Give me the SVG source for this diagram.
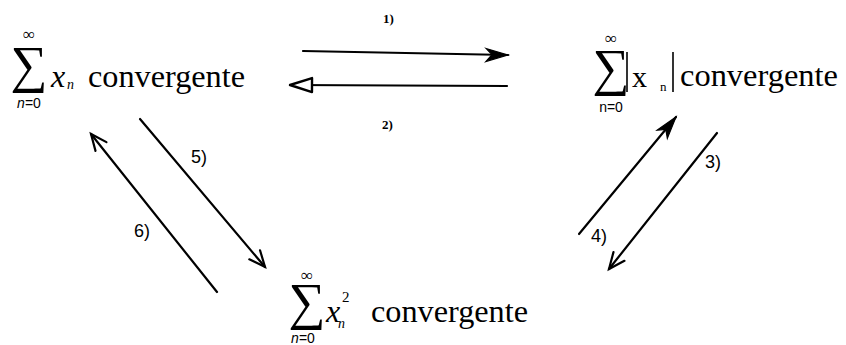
<svg xmlns="http://www.w3.org/2000/svg" width="846" height="345" viewBox="0 0 846 345">
<style>
.serif{font-family:"Liberation Serif","Times New Roman",serif;fill:#000}
.sans{font-family:"Liberation Sans",Arial,sans-serif;fill:#000}
.it{font-style:italic}
.word{font-size:31px}
.sig{font-size:52px}
.inf{font-size:17px}
.lim{font-size:14px}
.num{font-size:18px}
.small{font-size:13px;font-weight:bold}
.ln{stroke:#000;stroke-width:2.2;fill:none;stroke-linecap:round}
.bar{stroke:#000;stroke-width:1.6}
</style>
<defs>
<marker id="vh" markerUnits="userSpaceOnUse" markerWidth="24" markerHeight="20" refX="20" refY="10" orient="auto">
<path d="M4,3 L20,10 L4,17" fill="none" stroke="#000" stroke-width="2.2" stroke-linecap="round"/>
</marker>
<marker id="fh" markerUnits="userSpaceOnUse" markerWidth="28" markerHeight="20" refX="24" refY="10" orient="auto">
<path d="M2,4 L24,10 L2,17 L8,10 Z" fill="#000" stroke="#000" stroke-width="1.2"/>
</marker>
<marker id="oh" markerUnits="userSpaceOnUse" markerWidth="30" markerHeight="20" refX="26" refY="10" orient="auto">
<path d="M4,3 L26,10 L4,17 Z" fill="#fff" stroke="#000" stroke-width="2.4" stroke-linejoin="round"/>
</marker>
</defs>

<g id="node-xn">
<text class="serif inf" x="29" y="40" text-anchor="middle">∞</text>
<text class="serif sig" x="29" y="82" text-anchor="middle">∑</text>
<text class="sans lim" x="29" y="108" text-anchor="middle"><tspan class="it">n</tspan>=0</text>
<text class="serif it" x="51" y="87" font-size="32">x</text>
<text class="serif it" x="67" y="89" font-size="14">n</text>
<text class="serif word" x="88" y="87" textLength="157" lengthAdjust="spacingAndGlyphs">convergente</text>
</g>

<g id="node-abs">
<text class="serif inf" x="611" y="44" text-anchor="middle">∞</text>
<text class="serif sig" x="611" y="85" text-anchor="middle">∑</text>
<text class="sans lim" x="611" y="112" text-anchor="middle">n=0</text>
<line class="bar" x1="627" y1="52" x2="627" y2="92"/>
<text class="serif" x="632" y="87" font-size="30">x</text>
<text class="serif" x="660" y="91" font-size="13">n</text>
<line class="bar" x1="673" y1="52" x2="673" y2="92"/>
<text class="serif word" x="680" y="86" textLength="158" lengthAdjust="spacingAndGlyphs">convergente</text>
</g>

<g id="node-sq">
<text class="serif inf" x="307" y="281" text-anchor="middle">∞</text>
<text class="serif sig" x="307" y="319" text-anchor="middle">∑</text>
<text class="sans lim" x="303" y="343" text-anchor="middle"><tspan class="it">n</tspan>=0</text>
<text class="serif it" x="326" y="322" font-size="32">x</text>
<text class="serif" x="342" y="302" font-size="15">2</text>
<text class="serif it" x="338" y="328" font-size="14">n</text>
<text class="serif word" x="371" y="322" textLength="157" lengthAdjust="spacingAndGlyphs">convergente</text>
</g>

<g id="connectors">
<path class="ln" d="M303,51 L508,55" marker-end="url(#fh)"/>
<path class="ln" d="M507,86 L290,85" marker-end="url(#oh)"/>
<path class="ln" d="M717,133 L609,269" marker-end="url(#vh)"/>
<path class="ln" d="M579,234 L676,117" marker-end="url(#fh)"/>
<path class="ln" d="M140,119 L265,267" marker-end="url(#vh)"/>
<path class="ln" d="M217,292 L91,134" marker-end="url(#vh)"/>
<text class="serif small" x="383" y="23">1)</text>
<text class="serif small" x="382" y="129">2)</text>
<text class="sans num" x="705" y="168">3)</text>
<text class="sans num" x="591" y="242">4)</text>
<text class="sans num" x="191" y="163">5)</text>
<text class="sans num" x="134" y="237">6)</text>
</g>
</svg>
